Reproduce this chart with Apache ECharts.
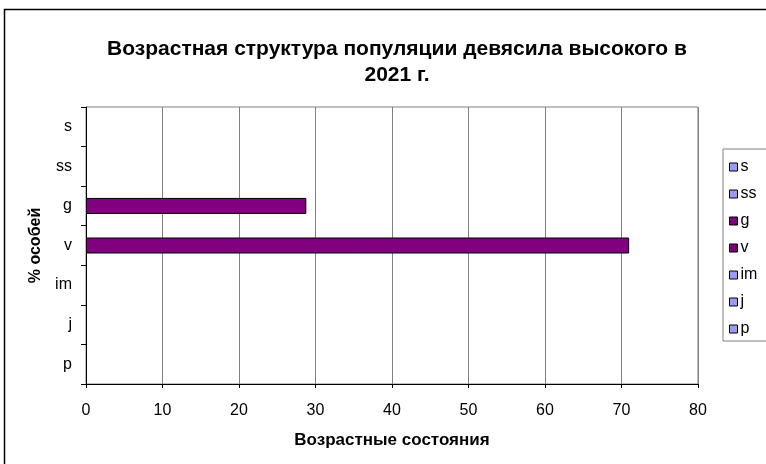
<!DOCTYPE html>
<html>
<head>
<meta charset="utf-8">
<script src="https://cdn.jsdelivr.net/npm/echarts@6/dist/echarts.min.js"></script>
<style>html,body{margin:0;padding:0;background:#fff;}#c{width:766px;height:464px;}</style>
</head>
<body>
<div id="c"></div>
<script>
// Data
const categories = ['p', 'j', 'im', 'v', 'g', 'ss', 's'];   // bottom to top
const values = [0, 0, 0, 71, 28.8, 0, 0];                   // % of individuals
const xTicks = [0, 10, 20, 30, 40, 50, 60, 70, 80];
const legendOrder = ['s', 'ss', 'g', 'v', 'im', 'j', 'p'];
const colorMap = { s: '#9999FF', ss: '#9999FF', g: '#800080', v: '#800080', im: '#9999FF', j: '#9999FF', p: '#9999FF' };

const FONT = '"Liberation Sans", Arial, sans-serif';
const chart = echarts.init(document.getElementById('c'), null, { renderer: 'canvas' });

const series = categories.map((name, i) => ({
  name: name,
  type: 'bar',
  stack: 'all',
  barWidth: 16,
  itemStyle: { color: colorMap[name], borderColor: '#000', borderWidth: 1 },
  data: categories.map((c, j) => (j === i && values[j] !== 0) ? values[j] : '-'),
  animation: false
}));

chart.setOption({
  animation: false,
  backgroundColor: '#fff',
  textStyle: { fontFamily: FONT, color: '#000' },
  title: {
    text: 'Возрастная структура популяции девясила высокого в\n2021 г.',
    left: 392, top: 31, textAlign: 'center',
    textStyle: { fontFamily: FONT, fontSize: 21, fontWeight: 'bold', color: '#000', lineHeight: 26 }
  },
  legend: {
    orient: 'vertical',
    left: 723, top: 149,
    padding: [10, 40, 4, 6],
    itemGap: 11,
    itemWidth: 8, itemHeight: 8,
    icon: 'rect',
    borderColor: '#808080', borderWidth: 1,
    data: legendOrder,
    itemStyle: { borderColor: '#000', borderWidth: 1 },
    textStyle: { fontFamily: FONT, fontSize: 16, color: '#000', padding: [0, 0, 0, -2] },
    selectedMode: false
  },
  grid: { left: 86, right: 68, top: 107, bottom: 80, show: true, borderColor: '#808080', borderWidth: 1, containLabel: false },
  xAxis: {
    type: 'value', min: xTicks[0], max: xTicks[xTicks.length - 1], interval: 10,
    name: 'Возрастные состояния', nameLocation: 'middle', nameGap: 48,
    nameTextStyle: { fontFamily: FONT, fontSize: 17, fontWeight: 'bold', color: '#000' },
    axisLine: { show: true, lineStyle: { color: '#000', width: 1 } },
    axisTick: { show: true, length: 4, lineStyle: { color: '#000' } },
    axisLabel: { fontFamily: FONT, fontSize: 16, color: '#000', margin: 19 },
    splitLine: { show: true, lineStyle: { color: '#808080', width: 1 } }
  },
  yAxis: {
    type: 'category', data: categories,
    name: '% особей', nameLocation: 'middle', nameGap: 42, nameRotate: 90,
    nameTextStyle: { fontFamily: FONT, fontSize: 16, fontWeight: 'bold', color: '#000' },
    axisLine: { show: true, lineStyle: { color: '#000', width: 1 } },
    axisTick: { show: true, length: 5, alignWithLabel: false, lineStyle: { color: '#000' } },
    axisLabel: { fontFamily: FONT, fontSize: 16, color: '#000', margin: 14 },
    splitLine: { show: false }
  },
  graphic: [{
    type: 'rect', silent: true, z: -10,
    shape: { x: 4.5, y: 9.5, width: 900, height: 600 },
    style: { fill: 'none', stroke: '#000', lineWidth: 1.5 }
  }],
  series: series
});
</script>
</body>
</html>
